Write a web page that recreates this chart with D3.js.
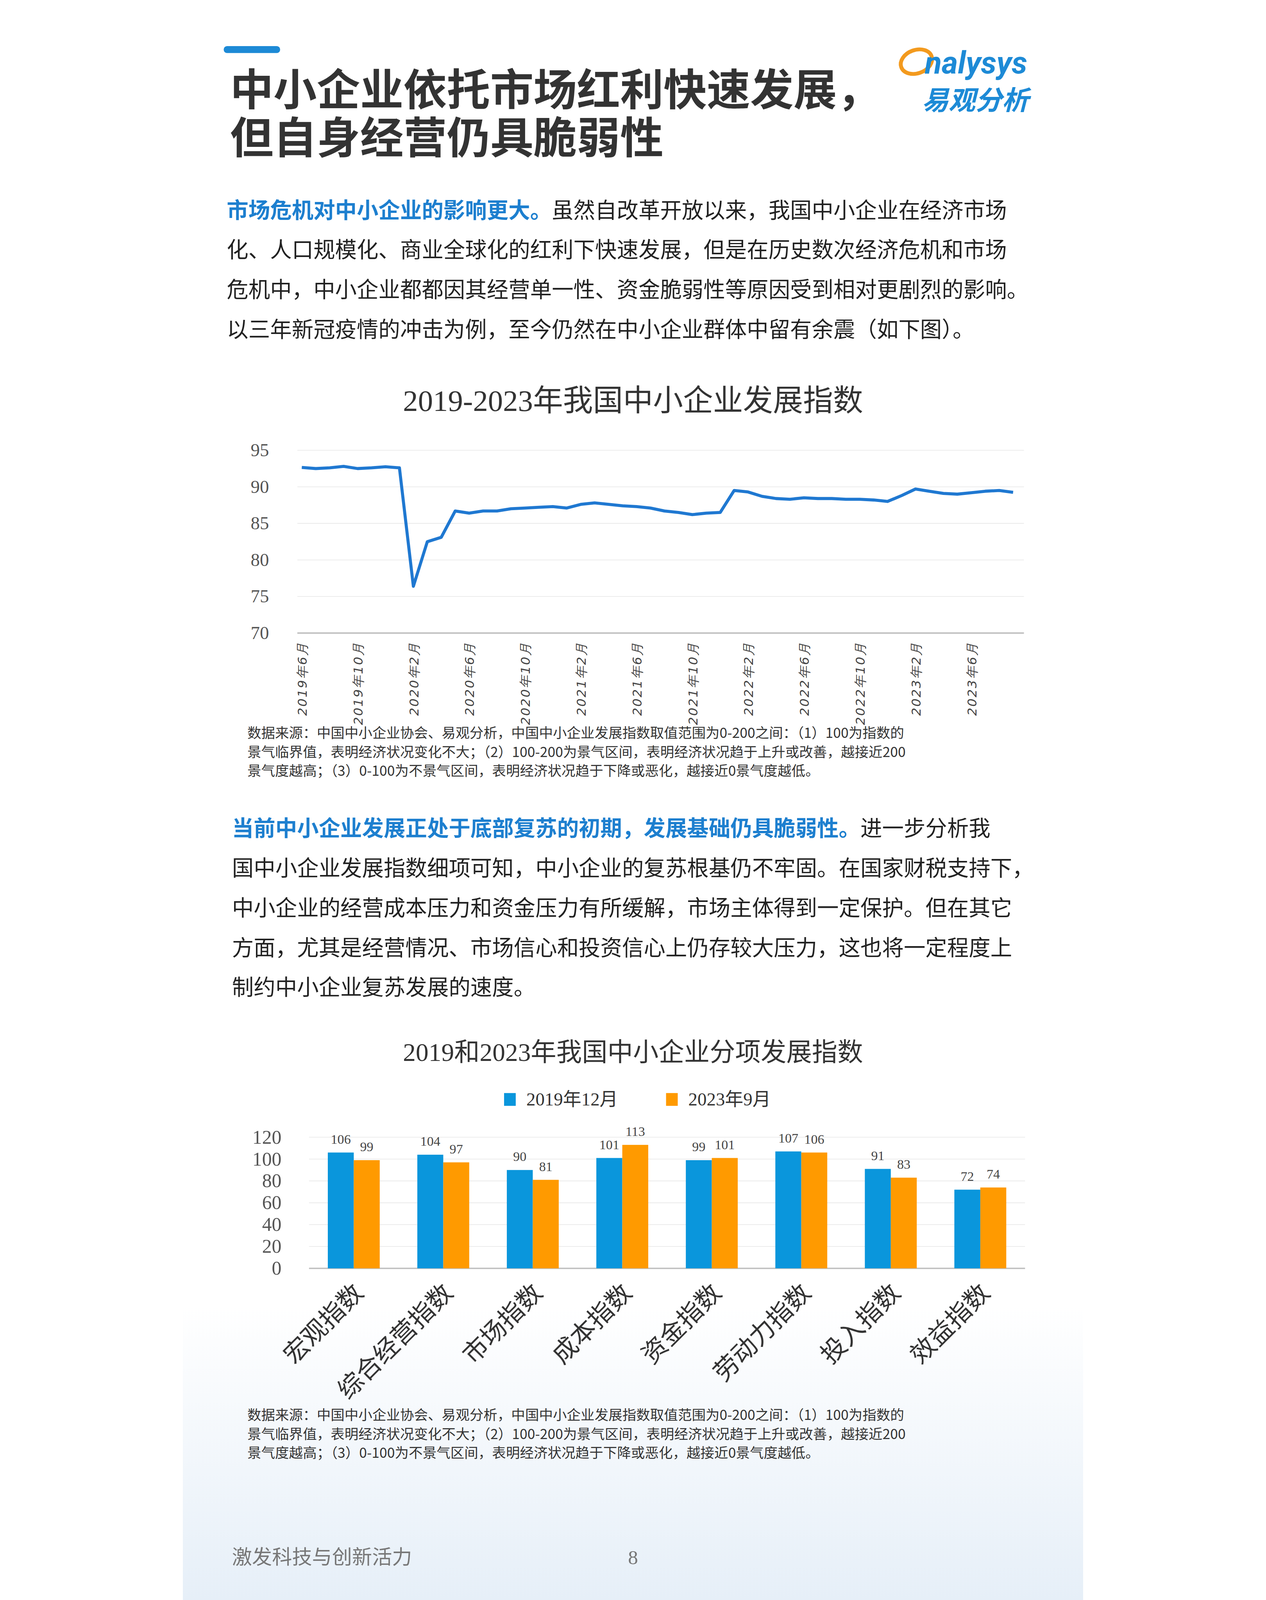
<!DOCTYPE html>
<html><head><meta charset="utf-8">
<script src="https://cdn.jsdelivr.net/npm/d3@7"></script>
<style>
html,body{margin:0;padding:0;background:#fff;overflow:hidden;}
svg{display:block;width:100vw;height:100vh;}
.cn{font-family:"Noto Sans CJK SC","Noto Sans",sans-serif;}
.sf{font-family:"Liberation Serif","Noto Sans CJK SC",serif;}
</style></head>
<body><div id="chart"></div>
<script>
// ---- data ----
const months = [];
for (let i = 0; i < 52; i++) {
    const y = 2019 + Math.floor((5 + i) / 12), m = (5 + i) % 12 + 1;
    months.push(y + "年" + m + "月");
}
const indexValues = [92.65,92.5,92.6,92.8,92.5,92.6,92.75,92.6,76.4,82.5,83.1,86.7,
    86.4,86.7,86.7,87.0,87.1,87.2,87.3,87.1,87.6,87.8,87.6,87.4,
    87.3,87.1,86.7,86.5,86.2,86.4,86.5,89.5,89.3,88.7,88.4,88.3,
    88.5,88.4,88.4,88.3,88.3,88.2,88.0,88.8,89.7,89.4,89.1,89.0,
    89.2,89.4,89.5,89.25];
const lineTicks = [70,75,80,85,90,95];

const categories = ["宏观指数","综合经营指数","市场指数","成本指数","资金指数","劳动力指数","投入指数","效益指数"];
const series = ["2019年12月","2023年9月"];
const v2019 = [106,104,90,101,99,107,91,72];
const v2023 = [99,97,81,113,101,106,83,74];
const barTicks = [0,20,40,60,80,100,120];

const note = ["数据来源：中国中小企业协会、易观分析，中国中小企业发展指数取值范围为0-200之间：（1）100为指数的",
    "景气临界值，表明经济状况变化不大；（2）100-200为景气区间，表明经济状况趋于上升或改善，越接近200",
    "景气度越高；（3）0-100为不景气区间，表明经济状况趋于下降或恶化，越接近0景气度越低。"];

const W = 3240, H = 5760;
const svg = d3.select("#chart").append("svg")
    .attr("viewBox", `0 0 ${W} ${H}`)
    .attr("preserveAspectRatio", "xMidYMid meet");

// bottom light background
const bg = svg.append("defs").append("linearGradient").attr("id","bg").attr("x1",0).attr("x2",0).attr("y1",0).attr("y2",1);
bg.append("stop").attr("offset","0").attr("stop-color","#fff");
bg.append("stop").attr("offset","1").attr("stop-color","#e6eff8");
svg.append("rect").attr("x",0).attr("y",4700).attr("width",W).attr("height",1060).attr("fill","url(#bg)");

/* HEADER */
svg.append("rect").attr("x",147).attr("y",166).attr("width",203).attr("height",25).attr("rx",12).attr("fill","#1d8ad6");
svg.append("text").attr("class","cn").attr("x",170).attr("y",380).attr("font-size",156).attr("font-weight",700)
    .attr("fill","#333").text("中小企业依托市场红利快速发展，");
svg.append("text").attr("class","cn").attr("x",170).attr("y",552).attr("font-size",156).attr("font-weight",700)
    .attr("fill","#333").text("但自身经营仍具脆弱性");

// logo
svg.append("ellipse").attr("cx",2640).attr("cy",222).attr("rx",58).attr("ry",42)
    .attr("fill","none").attr("stroke","#f39a1e").attr("stroke-width",14).attr("transform","rotate(-20,2640,222)");
svg.append("text").attr("x",2670).attr("y",265).attr("font-family","Roboto,sans-serif").attr("font-style","italic")
    .attr("font-weight",700).attr("font-size",112).attr("fill","#1d8ad6").text("nalysys");
svg.append("text").attr("class","cn").attr("x",2660).attr("y",395).attr("font-size",96).attr("font-weight",700)
    .attr("font-style","italic").attr("fill","#1d8ad6").text("易观分析");

function para(lines, x, y0, dy) {
    lines.forEach(function(l, i) {
        const t = svg.append("text").attr("class","cn").attr("x", x).attr("y", y0 + i*dy)
            .attr("font-size",78).attr("fill","#222");
        if (l.lead) t.append("tspan").attr("fill","#1d7fcf").attr("font-weight",700).text(l.lead);
        t.append("tspan").text(l.text);
    });
}
para([
    {lead:"市场危机对中小企业的影响更大。", text:"虽然自改革开放以来，我国中小企业在经济市场"},
    {text:"化、人口规模化、商业全球化的红利下快速发展，但是在历史数次经济危机和市场"},
    {text:"危机中，中小企业都都因其经营单一性、资金脆弱性等原因受到相对更剧烈的影响。"},
    {text:"以三年新冠疫情的冲击为例，至今仍然在中小企业群体中留有余震（如下图）。"}
], 158, 784, 143);

/* LINE CHART */
svg.append("text").attr("class","sf").attr("x",1620).attr("y",1480).attr("text-anchor","middle")
    .attr("font-size",108).attr("fill","#333").text("2019-2023年我国中小企业发展指数");

const xL = d3.scaleLinear().domain([0, 51]).range([428, 2988]);
const yL = d3.scaleLinear().domain([70, 95]).range([2279, 1621]);

svg.append("g").selectAll("line").data(lineTicks).enter().append("line")
    .attr("x1",412).attr("x2",3027).attr("y1",d=>yL(d)).attr("y2",d=>yL(d))
    .attr("stroke",d=>d===70?"#bfbfbf":"#ececec").attr("stroke-width",d=>d===70?5:3);
const yAx = svg.append("g").attr("transform","translate(310,0)")
    .call(d3.axisLeft(yL).tickValues(lineTicks).tickSize(0).tickPadding(0));
yAx.select(".domain").remove();
yAx.selectAll("text").attr("class","sf").attr("font-size",66).attr("fill","#555");

svg.append("g").selectAll("text").data(d3.range(0, 52, 4)).enter().append("text")
    .attr("transform", d => `translate(${xL(d)+18},2310) rotate(-90)`)
    .attr("text-anchor","end").attr("font-family","DejaVu Sans,sans-serif").attr("font-style","italic")
    .attr("font-size",46).attr("fill","#444").attr("letter-spacing",4).text(d => months[d]);

svg.append("path").datum(indexValues)
    .attr("d", d3.line().x((d,i)=>xL(i)).y(d=>yL(d)))
    .attr("fill","none").attr("stroke","#1f78d1").attr("stroke-width",11).attr("stroke-linejoin","round");

function noteBlock(y0) {
    note.forEach(function(l, i) {
        svg.append("text").attr("class","cn").attr("x",232).attr("y",y0 + i*68)
            .attr("font-size",50).attr("fill","#333").text(l);
    });
}
noteBlock(2657);

para([
    {lead:"当前中小企业发展正处于底部复苏的初期，发展基础仍具脆弱性。", text:"进一步分析我"},
    {text:"国中小企业发展指数细项可知，中小企业的复苏根基仍不牢固。在国家财税支持下，"},
    {text:"中小企业的经营成本压力和资金压力有所缓解，市场主体得到一定保护。但在其它"},
    {text:"方面，尤其是经营情况、市场信心和投资信心上仍存较大压力，这也将一定程度上"},
    {text:"制约中小企业复苏发展的速度。"}
], 177, 3010, 143);

/* BAR CHART */
svg.append("text").attr("class","sf").attr("x",1620).attr("y",3820).attr("text-anchor","middle")
    .attr("font-size",92).attr("fill","#333").text("2019和2023年我国中小企业分项发展指数");

const colors = ["#0a96dc","#ff9a00"];
const legX = [1156, 1739];
series.forEach(function(s, i) {
    svg.append("rect").attr("x",legX[i]).attr("y",3935).attr("width",42).attr("height",46).attr("fill",colors[i]);
    svg.append("text").attr("class","sf").attr("x",legX[i]+80).attr("y",3979).attr("font-size",66)
        .attr("fill","#333").text(s);
});

const x0 = d3.scaleBand().domain(categories).range([454, 3031]).paddingInner(0.42).paddingOuter(0.21);
const x1 = d3.scaleBand().domain(series).range([0, x0.bandwidth()]);
const yB = d3.scaleLinear().domain([0, 120]).range([4566, 4094]);

svg.append("g").selectAll("line").data(barTicks).enter().append("line")
    .attr("x1",454).attr("x2",3031).attr("y1",d=>yB(d)).attr("y2",d=>yB(d))
    .attr("stroke",d=>d===0?"#bfbfbf":"#ececec").attr("stroke-width",d=>d===0?5:3);
const yBx = svg.append("g").attr("transform","translate(355,0)")
    .call(d3.axisLeft(yB).tickValues(barTicks).tickSize(0).tickPadding(0));
yBx.select(".domain").remove();
yBx.selectAll("text").attr("class","sf").attr("font-size",70).attr("fill","#555");

const rows = categories.map((c, i) => ({cat: c, vals: [v2019[i], v2023[i]]}));
const grp = svg.append("g").selectAll("g").data(rows).enter().append("g")
    .attr("transform", d => `translate(${x0(d.cat)},0)`);
grp.selectAll("rect").data(d => d.vals.map((v, j) => ({s: series[j], v: v, j: j}))).enter().append("rect")
    .attr("x", d => x1(d.s)).attr("width", x1.bandwidth())
    .attr("y", d => yB(d.v)).attr("height", d => yB(0) - yB(d.v))
    .attr("fill", d => colors[d.j]);
grp.selectAll("text").data(d => d.vals.map((v, j) => ({s: series[j], v: v}))).enter().append("text")
    .attr("class","sf").attr("x", d => x1(d.s) + x1.bandwidth()/2).attr("y", d => yB(d.v) - 32)
    .attr("text-anchor","middle").attr("font-size",48).attr("fill","#444").text(d => d.v);

svg.append("g").selectAll("text").data(categories).enter().append("text")
    .attr("class","cn").attr("text-anchor","end")
    .attr("transform", d => `translate(${x0(d) + x0.bandwidth()/2 + 40},4660) rotate(-45)`)
    .attr("font-size",90).attr("fill","#333").text(d => d);

noteBlock(5112);

/* FOOTER */
svg.append("text").attr("class","cn").attr("x",177).attr("y",5630).attr("font-size",72)
    .attr("fill","#777").text("激发科技与创新活力");
svg.append("text").attr("class","sf").attr("x",1620).attr("y",5630).attr("text-anchor","middle")
    .attr("font-size",72).attr("fill","#777").text("8");
</script>
</body></html>
